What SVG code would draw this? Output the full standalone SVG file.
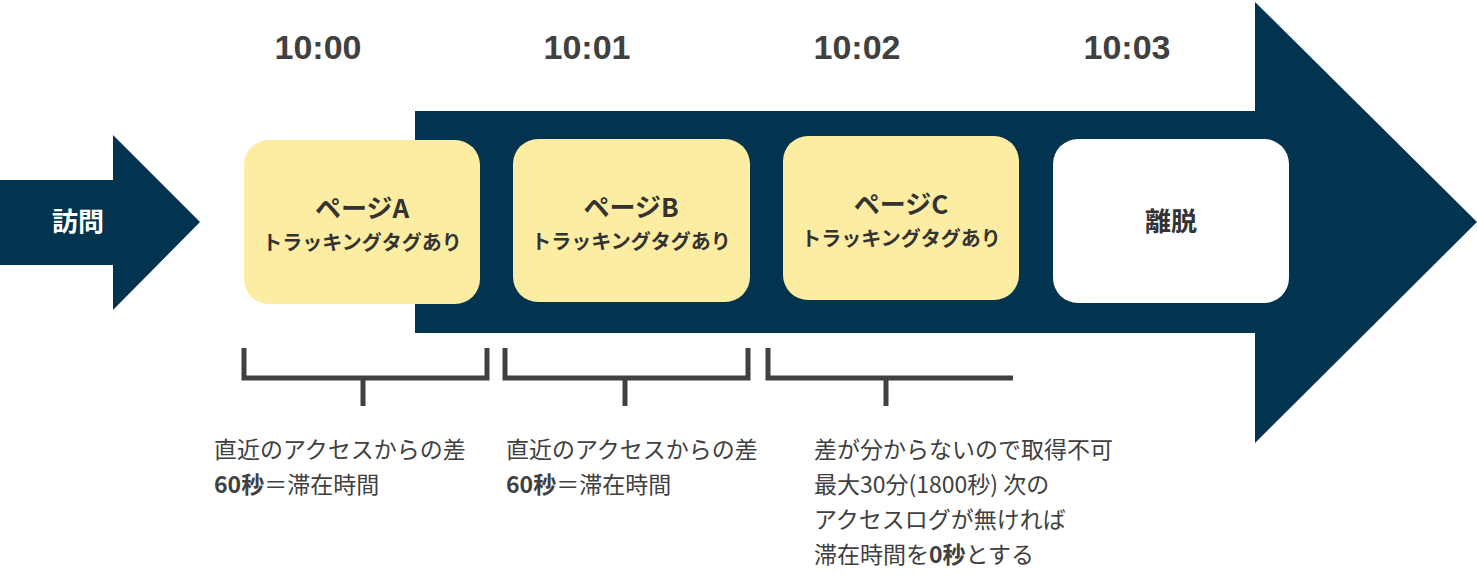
<svg xmlns="http://www.w3.org/2000/svg" width="1477" height="588" viewBox="0 0 1477 588">
<style>
.t{font-family:"Liberation Sans","Noto Sans CJK JP",sans-serif;fill:#404040}
.time{font-size:34px;font-weight:bold;text-anchor:middle}
.box{fill:#fdeda3}
.bl{font-size:26px;font-weight:bold;text-anchor:middle;font-family:"Noto Sans CJK JP",sans-serif;fill:#333}
.bs{font-size:20px;font-weight:bold;text-anchor:middle;font-family:"Noto Sans CJK JP",sans-serif;fill:#333}
.note{font-size:23px;font-family:"Noto Sans CJK JP",sans-serif;fill:#404040}
.br{fill:none;stroke:#404040;stroke-width:5}
</style>
<g id="arrows">
<polygon points="0,180 113,180 113,135 200,222 113,310 113,265 0,265" fill="#02344f"/>
<polygon points="415,111 1255,111 1255,2 1477,222 1255,443 1255,333 415,333" fill="#02344f"/>
</g>
<g id="visit"><text x="78" y="231" font-size="26" font-weight="bold" text-anchor="middle" font-family="Noto Sans CJK JP,sans-serif" fill="#fff">訪問</text></g>
<g id="times">
<text class="t time" x="318" y="59">10:00</text>
<text class="t time" x="587" y="59">10:01</text>
<text class="t time" x="857" y="59">10:02</text>
<text class="t time" x="1127" y="59">10:03</text>
</g>
<g id="pageA"><rect class="box" x="244" y="140" width="236" height="164" rx="25"/>
<text class="bl" x="362" y="218">ページA</text><text class="bs" x="362" y="250">トラッキングタグあり</text></g>
<g id="pageB"><rect class="box" x="513" y="139" width="237" height="163" rx="25"/>
<text class="bl" x="631" y="217">ページB</text><text class="bs" x="631" y="249">トラッキングタグあり</text></g>
<g id="pageC"><rect class="box" x="783" y="136" width="236" height="164" rx="25"/>
<text class="bl" x="901" y="214">ページC</text><text class="bs" x="901" y="246">トラッキングタグあり</text></g>
<g id="exit"><rect fill="#fff" x="1053" y="139" width="236" height="164" rx="25"/>
<text class="bl" x="1171" y="231" font-size="24">離脱</text></g>
<g id="connectors">
<path class="br" d="M244,348V378H487V348M363,378V406"/>
<path class="br" d="M505,348V378H748V348M625,378V406"/>
<path class="br" d="M768,348V378H1013M886,378V406"/>
</g>
<g id="notes">
<text class="note" x="214" y="458">直近のアクセスからの差</text>
<text class="note" x="214" y="493"><tspan font-weight="bold">60秒</tspan>＝滞在時間</text>
<text class="note" x="506" y="458">直近のアクセスからの差</text>
<text class="note" x="506" y="493"><tspan font-weight="bold">60秒</tspan>＝滞在時間</text>
<text class="note" x="814" y="458">差が分からないので取得不可</text>
<text class="note" x="814" y="493">最大30分(1800秒) 次の</text>
<text class="note" x="814" y="528">アクセスログが無ければ</text>
<text class="note" x="814" y="563">滞在時間を<tspan font-weight="bold">0秒</tspan>とする</text>
</g>
</svg>
